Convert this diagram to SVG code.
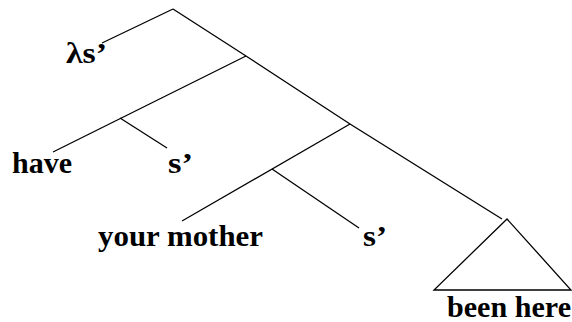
<svg xmlns="http://www.w3.org/2000/svg" width="572" height="322" viewBox="0 0 572 322">
<style>
.l{stroke:#000;stroke-width:1.3;fill:none}
.t{font-family:"Liberation Serif","Times New Roman",serif;font-weight:bold;font-size:30px;fill:#000}
</style>
<rect width="572" height="322" fill="#fff"/>
<g id="connectors">
<line class="l" x1="173" y1="9" x2="102" y2="43"/>
<polyline class="l" points="173,9 246,56 350,124 502,219"/>
<line class="l" x1="246" y1="56" x2="53" y2="152"/>
<line class="l" x1="120" y1="118" x2="167" y2="148"/>
<line class="l" x1="350" y1="124" x2="182" y2="221"/>
<line class="l" x1="272" y1="169" x2="359" y2="228"/>
</g>
<g id="n-lambda"><text class="t" x="66" y="63" textLength="41" lengthAdjust="spacingAndGlyphs">λs’</text></g>
<g id="n-have"><text class="t" x="12" y="173" textLength="60" lengthAdjust="spacingAndGlyphs">have</text></g>
<g id="n-s1"><text class="t" x="168" y="173" textLength="25" lengthAdjust="spacingAndGlyphs">s’</text></g>
<g id="n-yourmother"><text class="t" x="98" y="246" textLength="165" lengthAdjust="spacingAndGlyphs">your mother</text></g>
<g id="n-s2"><text class="t" x="363" y="246" textLength="24" lengthAdjust="spacingAndGlyphs">s’</text></g>
<g id="n-beenhere">
<polygon class="l" points="507,219 434,290 571,290"/>
<text class="t" x="447" y="317" textLength="124" lengthAdjust="spacingAndGlyphs">been here</text>
</g>
</svg>
